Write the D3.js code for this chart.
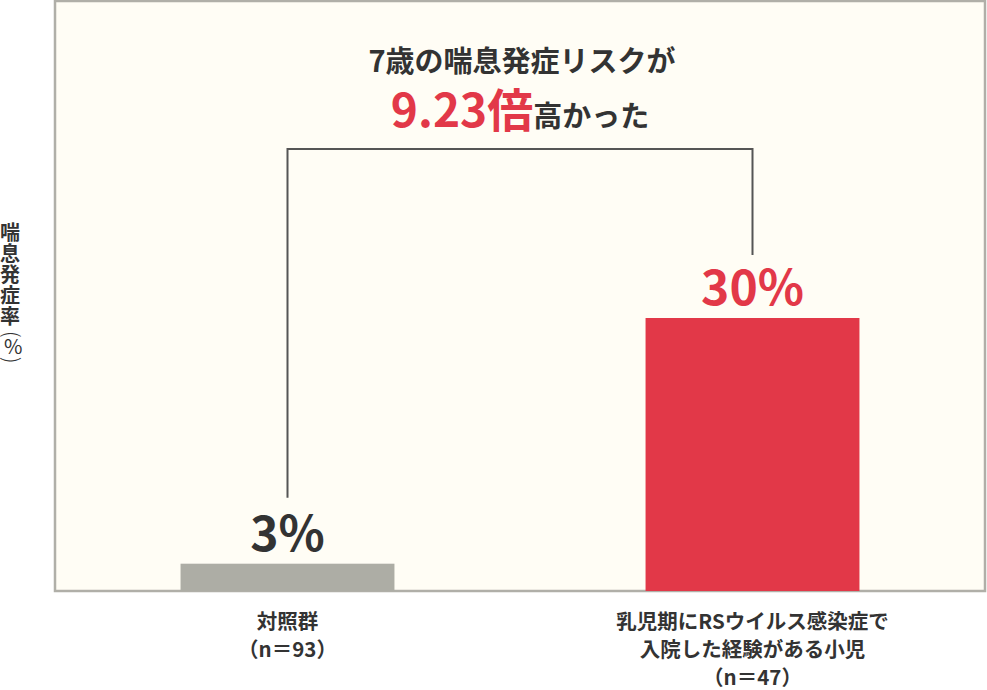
<!DOCTYPE html>
<html>
<head>
<meta charset="utf-8">
<script src="https://cdn.jsdelivr.net/npm/d3@7"></script>
<style>
  html, body { margin: 0; padding: 0; background: #fff; }
  svg { display: block; font-family: "Noto Sans CJK JP", "Noto Sans", sans-serif; }
</style>
</head>
<body>
<svg id="chart" width="987" height="690"></svg>
<script>
// data
const categories = ["control", "rsv"];
const values = [3, 30];
const valueLabels = ["3%", "30%"];
const categoryLabels = [
  ["対照群", "（n＝93）"],
  ["乳児期にRSウイルス感染症で", "入院した経験がある小児", "（n＝47）"]
];
const yTitle = "喘息発症率";
const yUnit = "%";
const barColors = ["#adada5", "#e23848"];
const valueColors = ["#333333", "#e23848"];

const svg = d3.select("#chart");
const plot = { left: 55, top: 1, right: 985, bottom: 591 };

const x = d3.scaleBand()
  .domain(categories)
  .range([plot.left, plot.right])
  .paddingInner(0.54)
  .paddingOuter(0.27);

const y = d3.scaleLinear()
  .domain([0, 30])
  .range([plot.bottom, 318]);

// plot frame
svg.append("rect")
  .attr("x", plot.left)
  .attr("y", plot.top)
  .attr("width", plot.right - plot.left)
  .attr("height", plot.bottom - plot.top)
  .attr("fill", "#fffdf5")
  .attr("stroke", "#b0afa8")
  .attr("stroke-width", 2.5);

// bars
svg.selectAll(".bar")
  .data(categories)
  .enter().append("rect")
  .attr("class", "bar")
  .attr("x", d => x(d))
  .attr("y", (d, i) => y(values[i]))
  .attr("width", x.bandwidth())
  .attr("height", (d, i) => y(0) - y(values[i]))
  .attr("fill", (d, i) => barColors[i]);

// value labels
svg.selectAll(".value")
  .data(categories)
  .enter().append("text")
  .attr("class", "value")
  .attr("x", d => x(d) + x.bandwidth() / 2)
  .attr("y", (d, i) => y(values[i]) - 13)
  .attr("text-anchor", "middle")
  .attr("font-size", 48)
  .attr("font-weight", 700)
  .attr("fill", (d, i) => valueColors[i])
  .text((d, i) => valueLabels[i]);

// comparison bracket
const cx = d => x(d) + x.bandwidth() / 2;
const bracketTop = 149;
svg.append("path")
  .attr("d", `M${cx(categories[0])},${y(values[0]) - 66}V${bracketTop}H${cx(categories[1])}V${y(values[1]) - 63}`)
  .attr("fill", "none")
  .attr("stroke", "#555")
  .attr("stroke-width", 2);

// headline
const title = svg.append("g").attr("text-anchor", "middle").attr("font-weight", 700);
title.append("text")
  .attr("x", 522)
  .attr("y", 72)
  .attr("font-size", 29)
  .attr("fill", "#333")
  .text("7歳の喘息発症リスクが");
const t2 = title.append("text")
  .attr("x", 520)
  .attr("y", 127);
t2.append("tspan").attr("font-size", 46).attr("fill", "#e23848").text("9.23倍");
t2.append("tspan").attr("font-size", 29).attr("fill", "#333").text("高かった");

// category labels
svg.selectAll(".cat")
  .data(categories)
  .enter().append("text")
  .attr("class", "cat")
  .attr("text-anchor", "middle")
  .attr("font-size", 20.5)
  .attr("font-weight", 700)
  .attr("fill", "#333")
  .each(function(d, i) {
    d3.select(this).selectAll("tspan")
      .data(categoryLabels[i])
      .enter().append("tspan")
      .attr("x", cx(d))
      .attr("y", (t, j) => 629 + j * 28)
      .text(t => t);
  });

// y axis title, stacked vertically one glyph at a time in one text element
const ya = svg.append("text")
  .attr("class", "y-title")
  .attr("fill", "#333")
  .attr("font-size", 20);
const chars = Array.from(yTitle);
ya.selectAll(".yc")
  .data(chars)
  .enter().append("tspan")
  .attr("class", "yc")
  .attr("x", 0)
  .attr("y", (c, i) => 240 + i * 21)
  .attr("font-weight", 700)
  .text(c => c);
// vertical-form parentheses: glyphs turned a quarter turn
ya.append("tspan")
  .attr("x", 4).attr("y", 331)
  .attr("rotate", 90)
  .attr("font-size", 21).attr("font-weight", 300)
  .text("(");
ya.append("tspan")
  .attr("x", 4).attr("y", 354)
  .attr("font-weight", 400)
  .text(yUnit);
ya.append("tspan")
  .attr("x", 4).attr("y", 357)
  .attr("rotate", 90)
  .attr("font-size", 21).attr("font-weight", 300)
  .text(")");
</script>
</body>
</html>
